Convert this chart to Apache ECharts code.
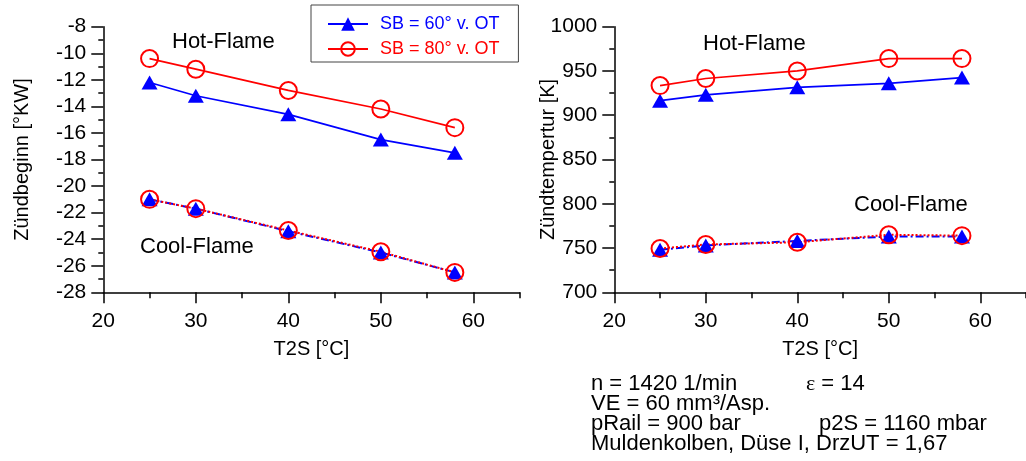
<!DOCTYPE html>
<html>
<head>
<meta charset="utf-8">
<script src="https://cdn.jsdelivr.net/npm/echarts@6/dist/echarts.min.js"></script>
<style>
  html, body { margin: 0; padding: 0; background: #fff; }
  #chart { width: 1026px; height: 461px; }
</style>
</head>
<body>
<div id="chart"></div>
<script>
// Charge-air temperature T2S [°C]
const t2s = [25, 30, 40, 50, 58];

// Ignition onset [°KW]
const beginHot60 = [-12.2, -13.2, -14.6, -16.5, -17.5];
const beginHot80 = [-10.4, -11.2, -12.8, -14.2, -15.6];
const beginCool60 = [-21.0, -21.7, -23.4, -25.0, -26.5];
const beginCool80 = [-21.0, -21.7, -23.35, -24.95, -26.5];

// Ignition temperature [K]
const tempHot60 = [916.5, 923, 931.5, 936, 942.5];
const tempHot80 = [933.5, 941.5, 950, 964, 964];
const tempCool60 = [748, 753, 758, 763, 763];
const tempCool80 = [749.5, 754, 756.5, 765, 764];

const seriesNames = ['SB = 60° v. OT', 'SB = 80° v. OT'];
const xMajorTicks = [20, 30, 40, 50, 60];
const xMinorTicks = [25, 35, 45, 55, 65];

const BLUE = '#0000ff';
const RED = '#ff0000';
const FONT = '"Liberation Sans", Arial, sans-serif';

const pairs = (xs, ys) => xs.map((x, i) => [x, ys[i]]);

function xAxesFor(grid) {
  return [
    {
      type: 'value', gridIndex: grid, position: 'bottom', min: 20, max: 65,
      name: 'T2S [°C]', nameLocation: 'middle', nameGap: 47, nameMoveOverlap: false,
      nameTextStyle: { fontFamily: FONT, fontSize: 20, color: '#000' },
      axisLine: { show: true, lineStyle: { color: '#000', width: 1.5 } },
      axisTick: { show: true, customValues: xMajorTicks, length: 11, lineStyle: { color: '#000', width: 1.5 } },
      axisLabel: { customValues: xMajorTicks, margin: 18, fontFamily: FONT, fontSize: 21, color: '#000' },
      splitLine: { show: false }
    },
    {
      type: 'value', gridIndex: grid, position: 'bottom', offset: 0, min: 20, max: 65,
      axisLine: { show: false },
      axisTick: { show: true, customValues: xMinorTicks, length: 6, lineStyle: { color: '#000', width: 1.5 } },
      axisLabel: { show: false },
      splitLine: { show: false }
    }
  ];
}

function yAxisFor(grid, min, max, interval, name, gap) {
  return {
    type: 'value', gridIndex: grid, min: min, max: max, interval: interval,
    name: name, nameLocation: 'middle', nameGap: gap, nameMoveOverlap: false,
    nameTextStyle: { fontFamily: FONT, fontSize: 20, color: '#000' },
    axisLine: { show: true, lineStyle: { color: '#000', width: 1.5 } },
    axisTick: { show: true, length: 12, lineStyle: { color: '#000', width: 1.5 } },
    minorTick: { show: true, splitNumber: 2, length: 5, lineStyle: { color: '#000', width: 1.5 } },
    axisLabel: { margin: 17, fontFamily: FONT, fontSize: 21, color: '#000', formatter: v => String(v) },
    splitLine: { show: false }
  };
}

function hotSeries(name, color, symbol, size, xIdx, yIdx, data) {
  const tri = symbol === 'triangle';
  return {
    type: 'line', name: name, xAxisIndex: xIdx, yAxisIndex: yIdx,
    data: pairs(t2s, data),
    symbol: symbol, symbolSize: size,
    showAllSymbol: true,
    lineStyle: { color: color, width: 1.7 },
    itemStyle: tri ? { color: color } : { color: 'rgba(0,0,0,0)', borderColor: color, borderWidth: 2 },
    emphasis: { disabled: true },
    animation: false
  };
}

function coolSeries(name, color, symbol, size, xIdx, yIdx, data, dash) {
  const s = hotSeries(name, color, symbol, size, xIdx, yIdx, data);
  s.lineStyle = { color: color, width: 2, type: dash };
  return s;
}

const chart = echarts.init(document.getElementById('chart'), null, { renderer: 'canvas' });

const textLine = (x, y, text, size) => ({
  type: 'text', x: x, y: y,
  style: { text: text, fontFamily: FONT, fontSize: size, fill: '#000', verticalAlign: 'middle', align: 'left' }
});

chart.setOption({
  backgroundColor: '#fff',
  animation: false,
  grid: [
    { left: 103.3, top: 26.7, width: 416.3, height: 265.6 },
    { left: 614.3, top: 26.7, width: 416.3, height: 265.6 }
  ],
  xAxis: [].concat(xAxesFor(0), xAxesFor(1)),
  yAxis: [
    yAxisFor(0, -28, -8, 2, 'Zündbeginn [°KW]', 71),
    yAxisFor(1, 700, 1000, 50, 'Zündtempertur [K]', 56)
  ],
  legend: {
    left: 311, top: 5,
    orient: 'vertical',
    itemWidth: 40, itemHeight: 17, itemGap: 7,
    padding: [10, 19, 4, 16],
    borderColor: '#444', borderWidth: 1,
    backgroundColor: '#fff',
    selectedMode: false,
    textStyle: { fontFamily: FONT, fontSize: 18, padding: [0, 0, 0, 7] },
    data: [
      { name: seriesNames[0], textStyle: { color: BLUE } },
      { name: seriesNames[1], textStyle: { color: RED } }
    ]
  },
  series: [
    hotSeries(seriesNames[0], BLUE, 'triangle', [16, 14], 0, 0, beginHot60),
    hotSeries(seriesNames[1], RED, 'circle', 17, 0, 0, beginHot80),
    coolSeries(seriesNames[0], BLUE, 'triangle', [16, 14], 0, 0, beginCool60, [8, 3, 2, 3]),
    coolSeries(seriesNames[1], RED, 'circle', 17, 0, 0, beginCool80, [2, 2]),
    hotSeries(seriesNames[0], BLUE, 'triangle', [16, 14], 2, 1, tempHot60),
    hotSeries(seriesNames[1], RED, 'circle', 17, 2, 1, tempHot80),
    coolSeries(seriesNames[0], BLUE, 'triangle', [16, 14], 2, 1, tempCool60, [8, 3, 2, 3]),
    coolSeries(seriesNames[1], RED, 'circle', 17, 2, 1, tempCool80, [2, 2])
  ],
  graphic: [
    textLine(172, 42, 'Hot-Flame', 22),
    textLine(140, 247, 'Cool-Flame', 22),
    textLine(703, 44, 'Hot-Flame', 22),
    textLine(854, 205, 'Cool-Flame', 22),
    textLine(591, 384, 'n = 1420 1/min', 22),
    {
      type: 'text', x: 806, y: 384,
      style: {
        text: '{e|ε} = 14',
        fontFamily: FONT, fontSize: 22, fill: '#000', verticalAlign: 'middle', align: 'left',
        rich: { e: { fontFamily: '"Liberation Serif", "Times New Roman", serif', fontSize: 22, fill: '#000' } }
      }
    },
    textLine(591, 404, 'VE = 60 mm³/Asp.', 22),
    textLine(591, 424, 'pRail = 900 bar', 22),
    textLine(819, 424, 'p2S = 1160 mbar', 22),
    textLine(591, 444, 'Muldenkolben, Düse I, DrzUT = 1,67', 22)
  ]
});
</script>
</body>
</html>
